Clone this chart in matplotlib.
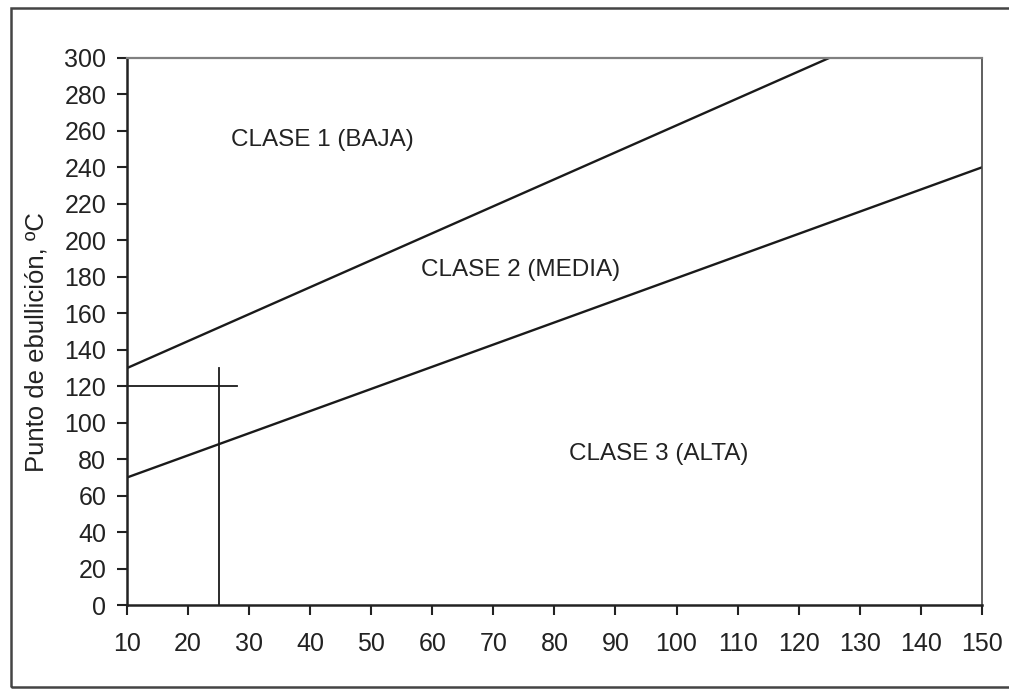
import matplotlib.pyplot as plt
from matplotlib.patches import Rectangle

plt.rcParams['font.family'] = ['Liberation Sans', 'DejaVu Sans']

# boundary lines between classes (x, y end points)
upper_x = [10, 125]
upper_y = [130, 300]
lower_x = [10, 150]
lower_y = [70, 240]

# reading guide for the example point
guide_x = 25
guide_y = 120
guide_top = 130
guide_right = 28

x_ticks = list(range(10, 151, 10))
y_ticks = list(range(0, 301, 20))

labels = ["CLASE 1 (BAJA)", "CLASE 2 (MEDIA)", "CLASE 3 (ALTA)"]
label_x = [42, 74.5, 97]
label_y = [255, 184, 83]

fig = plt.figure(figsize=(10.09, 6.90), dpi=100)
ax = fig.add_axes([0.126, 0.123, 0.847, 0.793])

ax.plot(upper_x, upper_y, color='#1a1a1a', lw=1.7)
ax.plot(lower_x, lower_y, color='#1a1a1a', lw=1.7)
ax.plot([guide_x, guide_x], [0, guide_top], color='#1a1a1a', lw=1.3)
ax.plot([x_ticks[0], guide_right], [guide_y, guide_y], color='#1a1a1a', lw=1.3)

for t, x, y in zip(labels, label_x, label_y):
    ax.text(x, y, t, ha='center', va='center', fontsize=17.5, color='#222222')

ax.set_xlim(10, 150)
ax.set_ylim(0, 300)
ax.set_xticks(x_ticks)
ax.set_yticks(y_ticks)
ax.tick_params(direction='out', length=7, width=1.5, labelsize=18,
               colors='#222222')
ax.tick_params(axis='x', pad=12)
ax.tick_params(axis='y', pad=8)
ax.set_ylabel("Punto de ebullición, ºC", fontsize=18.5, color='#222222')
ax.yaxis.set_label_coords(-0.092, 0.48)

for s in ['left', 'bottom']:
    ax.spines[s].set_color('#222222')
    ax.spines[s].set_linewidth(1.8)
for s in ['top', 'right']:
    ax.spines[s].set_color('#808080')
    ax.spines[s].set_linewidth(1.6)
ax.spines['right'].set_color('#444444')
ax.spines['right'].set_linewidth(1.2)

# outer frame of the figure
fig.patches.append(Rectangle((0.011, 0.004), 1.2, 0.984, transform=fig.transFigure,
                             fill=False, edgecolor='#444444', lw=1.8))

fig.savefig("out.png", dpi=100)
